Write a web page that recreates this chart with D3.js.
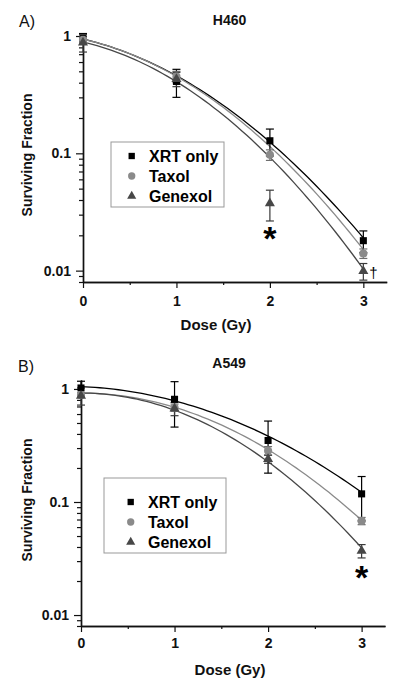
<!DOCTYPE html>
<html><head><meta charset="utf-8">
<script src="https://cdn.jsdelivr.net/npm/d3@7"></script>
<style>html,body{margin:0;padding:0;background:#fff;} svg{display:block;font-family:"Liberation Sans",Arial,sans-serif;}</style>
</head><body><svg id="chart" width="400" height="689"></svg>
<script>
// ---------- data ----------
const doses = [0, 1, 2, 3];
const seriesNames = ["XRT only", "Taxol", "Genexol"];
const xTickValues = [0, 1, 2, 3];
const xMinorTicks = [0.5, 1.5, 2.5];
const yTickValues = [0.01, 0.1, 1];
const yTickLabels = ["0.01", "0.1", "1"];

// Panel A: H460 (mean, SD)
const h460XrtMean = [0.95, 0.41, 0.128, 0.018];
const h460XrtErr = [0.10, 0.11, 0.033, 0.0038];
const h460TaxolMean = [0.93, 0.45, 0.097, 0.014];
const h460TaxolErr = [0.06, 0.05, 0.010, 0.0013];
const h460GenexolMean = [0.88, 0.43, 0.0375, 0.0099];
const h460GenexolErr = [0.15, 0.06, 0.011, 0.0016];
// linear-quadratic fit parameters S = S0 * exp(-alpha*D - beta*D^2), per series
const h460FitS0 = [0.942, 0.938, 0.888];
const h460FitAlpha = [0.4315, 0.4055, 0.4248];
const h460FitBeta = [0.2897, 0.3235, 0.3534];

// Panel B: A549
const a549XrtMean = [1.02, 0.81, 0.35, 0.118];
const a549XrtErr = [0.15, 0.35, 0.17, 0.05];
const a549TaxolMean = [0.885, 0.685, 0.284, 0.068];
const a549TaxolErr = [0.04, 0.05, 0.025, 0.005];
const a549GenexolMean = [0.87, 0.67, 0.24, 0.037];
const a549GenexolErr = [0.15, 0.09, 0.02, 0.005];
const a549FitS0 = [1.049, 0.920, 0.920];
const a549FitAlpha = [0.0755, 0.0025, 0.0];
const a549FitBeta = [0.2141, 0.2871, 0.3503];

// significance marks
const h460Marks = [{dose: 2, symbol: "*"}, {dose: 3, symbol: "†"}];
const a549Marks = [{dose: 3, symbol: "*"}];

// ---------- styling ----------
const colors = ["#000000", "#8a8a8a", "#474747"];
const errColors = ["#000000", "#6e6e6e", "#3a3a3a"];
const symbols = [d3.symbolSquare, d3.symbolCircle, d3.symbolTriangle];
const symSizes = [50, 52, 44];
const legSizes = [40, 42, 36];
const FONT = '"Liberation Sans", Arial, sans-serif';

const svg = d3.select("#chart");

const panels = [
  {
    letter: "A)", title: "H460",
    means: [h460XrtMean, h460TaxolMean, h460GenexolMean],
    errs: [h460XrtErr, h460TaxolErr, h460GenexolErr],
    fit: [h460FitS0, h460FitAlpha, h460FitBeta],
    marks: h460Marks, starDy: 47,
    x0: 83, x1: 386.7, yTop: 35, yBot: 282, yMax: 1.02,
    letterPos: [19, 27], titlePos: [229.5, 25], xLabelX: 216, xLabelY: 330,
    yLabelPos: [32, 155], tickPadX: 8,
    legend: {x: 111, y: 142, w: 113, h: 65, rows: [156, 176, 196], mx: 131.7, tx: 149}
  },
  {
    letter: "B)", title: "A549",
    means: [a549XrtMean, a549TaxolMean, a549GenexolMean],
    errs: [a549XrtErr, a549TaxolErr, a549GenexolErr],
    fit: [a549FitS0, a549FitAlpha, a549FitBeta],
    marks: a549Marks, starDy: 38,
    x0: 81, x1: 385, yTop: 380, yBot: 626, yMax: 1.2,
    letterPos: [18, 372], titlePos: [229, 368], xLabelX: 230, xLabelY: 675,
    yLabelPos: [32, 500], tickPadX: 6,
    legend: {x: 104, y: 478, w: 122, h: 75, rows: [502, 522, 542], mx: 130.7, tx: 148}
  }
];

panels.forEach(p => {
  const g = svg.append("g");
  const x = d3.scaleLinear().domain([0, 3.25]).range([p.x0, p.x1]);
  const y = d3.scaleLog().domain([0.008, p.yMax]).range([p.yBot, p.yTop]);

  // Y axis
  const minor = [];
  [0.001, 0.01, 0.1, 1].forEach(d => { for (let k = 2; k <= 9; k++) { const v = d * k; if (v >= 0.008 && v <= p.yMax) minor.push(v); } });
  const yMinorAxis = d3.axisLeft(y).tickValues(minor).tickSize(4).tickSizeOuter(0).tickFormat("");
  const yAxis = d3.axisLeft(y).tickValues(yTickValues).tickSize(7).tickPadding(5).tickSizeOuter(0)
    .tickFormat((d, i) => yTickLabels[i]);
  const ga = g.append("g").attr("transform", `translate(${p.x0},0)`).call(yMinorAxis);
  const gy = g.append("g").attr("transform", `translate(${p.x0},0)`).call(yAxis);
  // X axis
  const xMinorAxis = d3.axisBottom(x).tickValues(xMinorTicks).tickSize(3).tickSizeOuter(0).tickFormat("");
  const xAxis = d3.axisBottom(x).tickValues(xTickValues).tickSize(6).tickPadding(p.tickPadX).tickSizeOuter(0).tickFormat(d3.format("d"));
  const gxm = g.append("g").attr("transform", `translate(0,${p.yBot})`).call(xMinorAxis);
  const gx = g.append("g").attr("transform", `translate(0,${p.yBot})`).call(xAxis);
  [ga, gy, gxm, gx].forEach(a => {
    a.selectAll("path.domain").attr("stroke", "#111").attr("stroke-width", 1.4);
    a.selectAll(".tick line").attr("stroke", "#111").attr("stroke-width", 1.2);
    a.selectAll(".tick text").attr("fill", "#111").attr("font-size", 14).attr("font-weight", "bold").attr("font-family", FONT);
  });

  // fitted LQ curves
  const dGrid = d3.range(0, 3.0001, 0.05);
  const line = d3.line().x(d => x(d[0])).y(d => y(d[1]));
  seriesNames.forEach((name, si) => {
    const S0 = p.fit[0][si], a = p.fit[1][si], b = p.fit[2][si];
    const pts = dGrid.map(D => [D, S0 * Math.exp(-a * D - b * D * D)]);
    g.append("path").attr("d", line(pts)).attr("fill", "none")
      .attr("stroke", colors[si]).attr("stroke-width", 1.3);
  });

  // error bars
  p.means.forEach((m, si) => {
    m.forEach((v, i) => {
      const e = p.errs[si][i];
      const cx = x(doses[i]);
      const yHi = y(v + e), yLo = y(Math.max(v - e, 0.0079));
      const eg = g.append("g").attr("stroke", errColors[si]).attr("stroke-width", 1.2);
      eg.append("line").attr("x1", cx).attr("x2", cx).attr("y1", yHi).attr("y2", yLo);
      eg.append("line").attr("x1", cx - 4).attr("x2", cx + 4).attr("y1", yHi).attr("y2", yHi);
      eg.append("line").attr("x1", cx - 4).attr("x2", cx + 4).attr("y1", yLo).attr("y2", yLo);
    });
  });

  // markers
  p.means.forEach((m, si) => {
    g.selectAll(null).data(m).enter().append("path")
      .attr("d", d3.symbol().type(symbols[si]).size(symSizes[si]))
      .attr("transform", (d, i) => `translate(${x(doses[i])},${y(d)})`)
      .attr("fill", colors[si]);
  });

  // significance marks (next to Genexol point)
  p.marks.forEach(mk => {
    const i = doses.indexOf(mk.dose);
    const v = p.means[2][i];
    const cx = x(mk.dose), cy = y(v);
    if (mk.symbol === "*") {
      g.append("text").attr("x", cx).attr("y", cy + p.starDy).attr("text-anchor", "middle")
        .attr("font-size", 34).attr("font-weight", "bold").attr("font-family", FONT).attr("fill", "#000").text("*");
    } else {
      g.append("text").attr("x", cx + 10).attr("y", cy + 7).attr("text-anchor", "middle")
        .attr("font-size", 15).attr("font-family", FONT).attr("fill", "#000").text(mk.symbol);
    }
  });

  // legend
  const L = p.legend;
  g.append("rect").attr("x", L.x).attr("y", L.y).attr("width", L.w).attr("height", L.h)
    .attr("fill", "#fff").attr("stroke", "#999").attr("stroke-width", 1);
  seriesNames.forEach((name, si) => {
    g.append("path").attr("d", d3.symbol().type(symbols[si]).size(legSizes[si]))
      .attr("transform", `translate(${L.mx},${L.rows[si]})`).attr("fill", colors[si]);
    g.append("text").attr("x", L.tx).attr("y", L.rows[si] + 6)
      .attr("font-size", 16).attr("font-weight", "bold").attr("font-family", FONT).attr("fill", "#000").text(name);
  });

  // labels
  g.append("text").attr("x", p.letterPos[0]).attr("y", p.letterPos[1]).attr("font-size", 16)
    .attr("font-family", FONT).attr("fill", "#111").text(p.letter);
  g.append("text").attr("x", p.titlePos[0]).attr("y", p.titlePos[1]).attr("text-anchor", "middle")
    .attr("font-size", 14).attr("font-weight", "bold").attr("font-family", FONT).attr("fill", "#111").text(p.title);
  g.append("text").attr("x", p.xLabelX).attr("y", p.xLabelY).attr("text-anchor", "middle")
    .attr("font-size", 15).attr("font-weight", "bold").attr("font-family", FONT).attr("fill", "#111").text("Dose (Gy)");
  g.append("text").attr("transform", `translate(${p.yLabelPos[0]},${p.yLabelPos[1]}) rotate(-90)`)
    .attr("text-anchor", "middle").attr("font-size", 14).attr("font-weight", "bold")
    .attr("font-family", FONT).attr("fill", "#111").text("Surviving Fraction");
});
</script>
</body></html>
